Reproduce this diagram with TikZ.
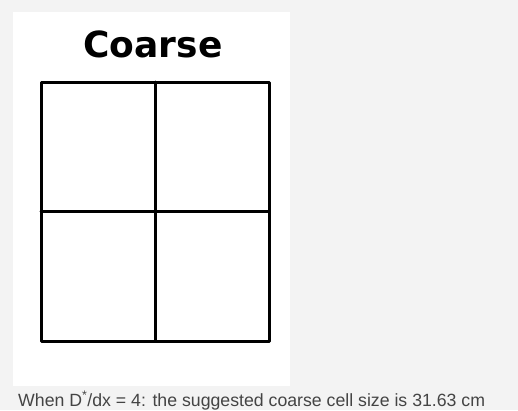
\documentclass[tikz,border=0pt]{standalone}
\usepackage{fontspec}
\setmainfont{Liberation Sans}
\newfontfamily\titlefont{DejaVu Sans}
\usepackage{xcolor}
\usetikzlibrary{positioning,calc}
\definecolor{pagegray}{HTML}{F3F3F3}
\definecolor{captiongray}{HTML}{444444}

\begin{document}
\begin{tikzpicture}[x=1pt,y=-1pt,
  cellline/.style={black,line width=3pt,line join=round,line cap=round}]
\useasboundingbox (0,0) rectangle (518,410);
\fill[pagegray] (0,0) rectangle (518,410);
\fill[white] (13,12) rectangle (290,386);
\node[font=\titlefont\bfseries\fontsize{36}{42}\selectfont,anchor=base,inner sep=0pt] (title) at (153,57) {Coarse};
% 2x2 grid of coarse cells
\coordinate (gridnw) at (41,82);
\coordinate (gridse) at (269,341);
\draw[cellline] (gridnw) rectangle (gridse);
\foreach \a/\b in {{155,82}/{155,341},{41,211.5}/{269,211.5}}{
  \draw[cellline] (\a) -- (\b);
}
\node[anchor=base west,inner sep=0pt,text=captiongray,font=\fontsize{17.7}{22}\selectfont] (caption) at (18,406)
  {When D\textsuperscript{*}/dx = 4: the suggested coarse cell size is 31.63 cm};
\end{tikzpicture}
\end{document}
